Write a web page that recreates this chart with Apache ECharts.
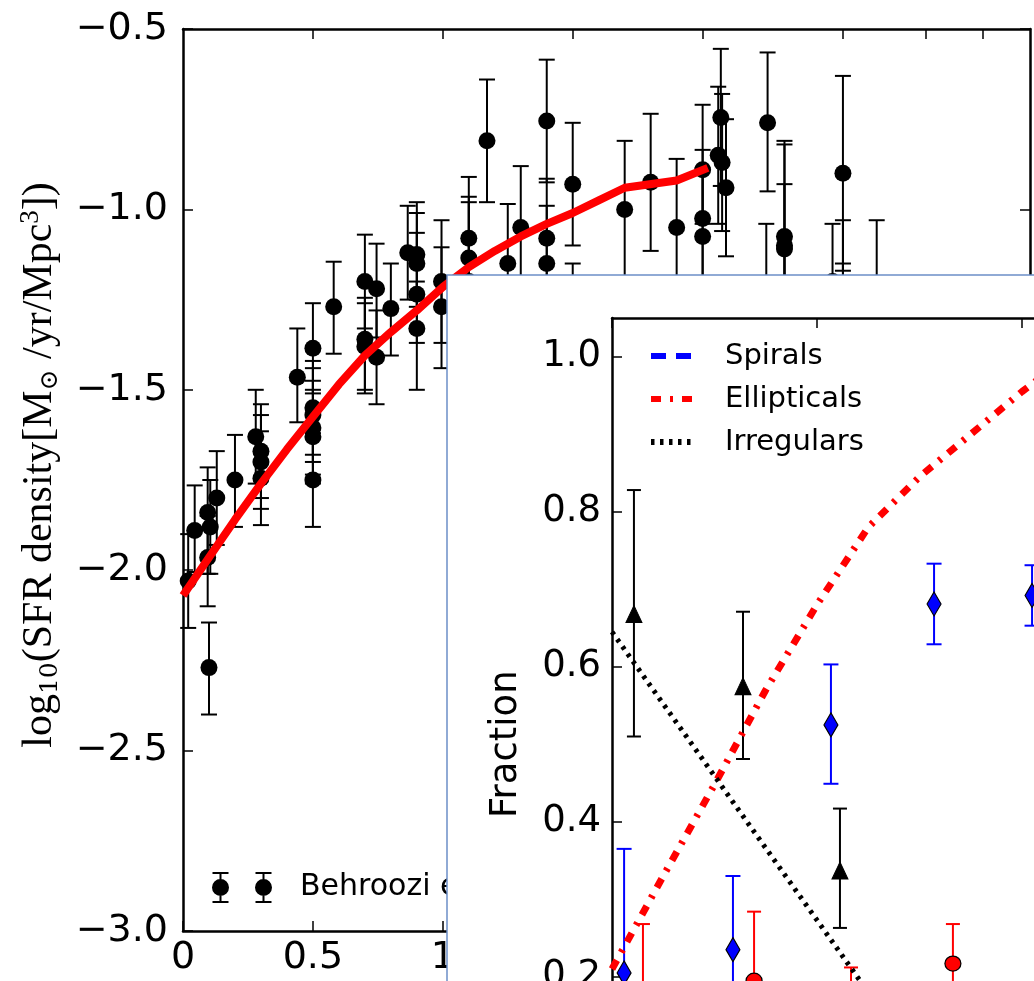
<!DOCTYPE html>
<html><head><meta charset="utf-8">
<script src="https://cdn.jsdelivr.net/npm/echarts@6/dist/echarts.min.js"></script>
<style>html,body{margin:0;padding:0;background:#fff;overflow:hidden;width:1034px;height:981px}#c{width:1400px;height:1400px}</style>
</head><body><div id="c"></div>
<script>
// ---------- main panel: Behroozi SFR density data ----------
const behName = 'Behroozi et al. (2013)';
const behX  = [0.02,0.045,0.13,0.095,0.105,0.095,0.10,0.20,0.28,0.30,0.30,0.30,0.44,0.50,0.50,0.50,0.50,0.50,0.50,0.58,0.70,0.70,0.70,0.745,0.745,0.80,0.865,0.90,0.90,0.90,0.90,0.995,0.995,1.10,1.10,1.10,1.17,1.25,1.30,1.40,1.40,1.40,1.50,1.50,1.70,1.80,1.90,2.00,2.00,2.00,2.06,2.07,2.075,2.09,2.25,2.245,2.315,2.315,2.315,2.50,2.54,2.54,2.54,2.67];
const behY  = [-2.03,-1.89,-1.80,-1.84,-1.88,-1.965,-2.27,-1.75,-1.63,-1.67,-1.70,-1.745,-1.465,-1.385,-1.55,-1.57,-1.605,-1.63,-1.75,-1.27,-1.20,-1.36,-1.38,-1.22,-1.41,-1.275,-1.12,-1.125,-1.15,-1.235,-1.33,-1.20,-1.27,-1.08,-1.135,-1.20,-0.81,-1.15,-1.05,-0.755,-1.08,-1.15,-0.93,-1.32,-1.00,-0.925,-1.05,-0.89,-1.025,-1.075,-0.85,-0.745,-0.87,-0.94,-0.76,-1.23,-1.075,-1.10,-1.11,-1.20,-0.90,-1.30,-1.42,-1.30];
const behHi = [-1.90,-1.765,-1.67,-1.715,-1.75,-1.85,-2.145,-1.625,-1.50,-1.54,-1.57,-1.615,-1.33,-1.26,-1.42,-1.44,-1.475,-1.50,-1.62,-1.145,-1.07,-1.245,-1.26,-1.095,-1.28,-1.15,-0.99,-0.98,-1.01,-1.065,-1.20,-1.03,-1.105,-0.91,-0.965,-0.98,-0.64,-0.985,-0.88,-0.585,-0.915,-0.99,-0.76,-1.15,-0.81,-0.735,-0.86,-0.71,-0.835,-0.885,-0.66,-0.555,-0.68,-0.75,-0.565,-1.04,-0.81,-0.82,-0.93,-1.04,-0.63,-1.03,-1.15,-1.03];
const behLo = [-2.16,-2.005,-1.93,-2.01,-2.01,-2.10,-2.40,-1.88,-1.76,-1.80,-1.83,-1.875,-1.59,-1.51,-1.68,-1.70,-1.735,-1.76,-1.88,-1.40,-1.33,-1.50,-1.51,-1.355,-1.54,-1.405,-1.25,-1.25,-1.27,-1.37,-1.50,-1.37,-1.44,-1.25,-1.30,-1.42,-0.98,-1.32,-1.22,-0.925,-1.245,-1.315,-1.10,-1.49,-1.19,-1.115,-1.24,-1.04,-1.21,-1.26,-1.04,-0.935,-1.06,-1.13,-0.95,-1.42,-1.34,-1.38,-1.29,-1.36,-1.17,-1.57,-1.69,-1.57];

// model curve (red)
const modelX = [0,0.1,0.2,0.3,0.4,0.5,0.6,0.7,0.8,0.9,1.0,1.1,1.2,1.3,1.4,1.5,1.6,1.7,1.9,2.02];
const modelY = [-2.07,-1.965,-1.86,-1.76,-1.665,-1.575,-1.485,-1.405,-1.34,-1.28,-1.215,-1.16,-1.115,-1.075,-1.04,-1.01,-0.975,-0.94,-0.92,-0.885];

const mainTopTicks = [0.5,1.0,1.5,2.0,2.54,2.86,3.08];

// ---------- inset: morphological fractions ----------
const lineNames = ['Spirals','Ellipticals','Irregulars'];
const fracLineX = [0,0.25,0.5,0.75,1.0,1.25,1.5,1.75,2.0,2.1];
const ellLineY  = [0.21,0.33,0.448,0.57,0.68,0.78,0.845,0.90,0.955,0.975];
const irrLineX  = [0,0.5,1.0,1.5];
const irrLineY  = [0.645,0.459,0.273,0.087];
const spiLineX  = [0,0.5,1.0];
const spiLineY  = [0.145,0.093,0.052];

const spiX  = [0.059,0.59,1.068,1.571,2.049];
const spiY  = [0.205,0.235,0.525,0.681,0.692];
const spiHi = [0.365,0.33,0.603,0.733,0.731];
const spiLo = [0.045,0.14,0.449,0.629,0.653];

const irrX  = [0.107,0.639,1.112];
const irrY  = [0.668,0.575,0.337];
const irrHi = [0.828,0.671,0.417];
const irrLo = [0.51,0.481,0.263];

const ellX  = [0.151,0.693,1.166,1.663];
const ellY  = [0.15,0.195,0.13,0.217];
const ellHi = [0.268,0.284,0.212,0.268];
const ellLo = [0.03,0.105,0.05,0.166];

const fracTicks = [0,0.2,0.4,0.6,0.8,1.0];

// ---------- helpers ----------
const FONT = 'DejaVu Sans';
function zip2(a,b){return a.map((v,i)=>[v,b[i]]);}
function zip3(a,b,c){return a.map((v,i)=>[v,b[i],c[i]]);}
function errRender(capW,color,lw){
  return function(params,api){
    const x=api.value(0), lo=api.value(1), hi=api.value(2);
    const p1=api.coord([x,hi]), p2=api.coord([x,lo]);
    const h=capW/2, st={stroke:color,lineWidth:lw};
    return {type:'group',children:[
      {type:'line',shape:{x1:p1[0],y1:p1[1],x2:p2[0],y2:p2[1]},style:st},
      {type:'line',shape:{x1:p1[0]-h,y1:p1[1],x2:p1[0]+h,y2:p1[1]},style:st},
      {type:'line',shape:{x1:p2[0]-h,y1:p2[1],x2:p2[0]+h,y2:p2[1]},style:st}
    ]};
  };
}
const minus1 = v => v.toFixed(1).replace('-', '\u2212');
const axLine = {show:true,onZero:false,lineStyle:{color:'#000',width:2.5}};
const tickIn = {show:true,inside:true,length:10,lineStyle:{color:'#000',width:1.5}};

const legendIcon = 'path://M0,15.5 a8.5,8.5 0 1,1 17,0 a8.5,8.5 0 1,1 -17,0 Z M7.5,0 h2 v31 h-2 Z M0.5,0 h16 v2 h-16 Z M0.5,29 h16 v2 h-16 Z M43,15.5 a8.5,8.5 0 1,1 17,0 a8.5,8.5 0 1,1 -17,0 Z M50.5,0 h2 v31 h-2 Z M43.5,0 h16 v2 h-16 Z M43.5,29 h16 v2 h-16 Z';

const chart = echarts.init(document.getElementById('c'), null, {renderer:'canvas'});
const option = {
  animation:false,
  backgroundColor:'#fff',
  textStyle:{fontFamily:FONT,color:'#000'},
  grid:[
    {left:183,top:29,width:847,height:902},
    {left:612,top:318,width:615,height:852.5,z:60}
  ],
  xAxis:[
    {gridIndex:0,type:'value',min:0,max:3.26,interval:0.5,position:'bottom',
     axisLine:axLine,axisTick:tickIn,splitLine:{show:false},
     axisLabel:{fontSize:38,fontFamily:FONT,color:'#000',margin:8,showMaxLabel:false,formatter:v=>String(v)}},
    {gridIndex:0,type:'value',min:0,max:3.26,position:'top',
     axisLine:axLine,axisTick:Object.assign({},tickIn,{customValues:mainTopTicks}),
     axisLabel:{show:false},splitLine:{show:false}},
    {gridIndex:1,type:'value',min:0,max:3,interval:1,position:'bottom',z:60,
     axisLine:axLine,axisTick:tickIn,axisLabel:{show:false},splitLine:{show:false}},
    {gridIndex:1,type:'value',min:0,max:3,interval:1,position:'top',z:60,
     axisLine:axLine,axisTick:tickIn,axisLabel:{show:false},splitLine:{show:false}}
  ],
  yAxis:[
    {gridIndex:0,type:'value',min:-3,max:-0.5,interval:0.5,position:'left',
     axisLine:axLine,axisTick:tickIn,splitLine:{show:false},
     axisLabel:{fontSize:38,fontFamily:FONT,color:'#000',margin:15,formatter:minus1},
     name:'{n|log}{s|10}{n|(SFR density[M}{s|\u2299}{n| /yr/Mpc}{p|3}{n|])}',
     nameLocation:'middle',nameGap:120,nameRotate:90,
     nameTextStyle:{padding:[0,0,0,30],rich:{
       n:{fontFamily:'Liberation Serif',fontSize:42,lineHeight:46,color:'#000'},
       s:{fontFamily:'DejaVu Serif',fontSize:25,lineHeight:16,verticalAlign:'bottom',color:'#000'},
       p:{fontFamily:'Liberation Serif',fontSize:27,lineHeight:16,verticalAlign:'top',color:'#000'}
     }}},
    {gridIndex:0,type:'value',min:-3,max:-0.5,interval:0.5,position:'right',
     axisLine:axLine,axisTick:tickIn,axisLabel:{show:false},splitLine:{show:false}},
    {gridIndex:1,type:'value',min:-0.05,max:1.05,splitNumber:5,position:'left',z:60,
     axisLine:axLine,axisTick:Object.assign({},tickIn,{customValues:fracTicks}),splitLine:{show:false},
     axisLabel:{fontSize:37,fontFamily:FONT,color:'#000',margin:11,customValues:fracTicks,
       formatter:v=>v.toFixed(1)},
     name:'Fraction',nameLocation:'middle',nameGap:87,nameRotate:90,
     nameTextStyle:{fontSize:37,fontFamily:FONT,color:'#000'}},
    {gridIndex:1,type:'value',min:-0.05,max:1.05,splitNumber:5,position:'right',z:60,
     axisLine:axLine,axisTick:Object.assign({},tickIn,{customValues:fracTicks}),axisLabel:{show:false},splitLine:{show:false}}
  ],
  legend:[
    {data:[{name:behName,icon:legendIcon}],left:212,top:872,padding:0,orient:'vertical',
     itemWidth:60,itemHeight:31,selectedMode:false,z:4,
     textStyle:{fontSize:30,fontFamily:FONT,color:'#000',padding:[0,0,0,23]}},
    {data:lineNames,left:648,top:341,padding:0,orient:'vertical',itemWidth:41,itemHeight:14,
     itemGap:13,selectedMode:false,z:60,itemStyle:{opacity:0},lineStyle:{width:6},
     textStyle:{fontSize:29,fontFamily:FONT,color:'#000',lineHeight:30,padding:[0,0,0,28]}}
  ],
  graphic:[
    {type:'rect',z:50,shape:{x:447,y:275,width:1000,height:1000},
     style:{fill:'#ffffff',stroke:'#6c8fc8',lineWidth:1.5}}
  ],
  series:[
    {type:'custom',name:behName+' err',xAxisIndex:0,yAxisIndex:0,z:2,
     renderItem:errRender(16,'#000',2),encode:{x:0,y:[1,2]},data:zip3(behX,behLo,behHi)},
    {type:'scatter',name:behName,xAxisIndex:0,yAxisIndex:0,z:3,symbol:'circle',symbolSize:17,
     itemStyle:{color:'#000',opacity:1},data:zip2(behX,behY)},
    {type:'line',name:'model',xAxisIndex:0,yAxisIndex:0,z:5,symbol:'none',
     lineStyle:{color:'#ff0000',width:8},data:zip2(modelX,modelY)},

    {type:'custom',name:'Spirals err',xAxisIndex:2,yAxisIndex:2,z:61,
     renderItem:errRender(15,'#0000ff',2),encode:{x:0,y:[1,2]},data:zip3(spiX,spiLo,spiHi)},
    {type:'custom',name:'Irregulars err',xAxisIndex:2,yAxisIndex:2,z:61,
     renderItem:errRender(14,'#000',2),encode:{x:0,y:[1,2]},data:zip3(irrX,irrLo,irrHi)},
    {type:'custom',name:'Ellipticals err',xAxisIndex:2,yAxisIndex:2,z:61,
     renderItem:errRender(14,'#ff0000',2),encode:{x:0,y:[1,2]},data:zip3(ellX,ellLo,ellHi)},
    {type:'scatter',name:'Spirals pts',xAxisIndex:2,yAxisIndex:2,z:62,symbol:'diamond',symbolSize:[14,24],
     itemStyle:{color:'#0000ff',borderColor:'#000',borderWidth:1.2,opacity:1},data:zip2(spiX,spiY)},
    {type:'scatter',name:'Irregulars pts',xAxisIndex:2,yAxisIndex:2,z:62,symbol:'triangle',symbolSize:[16,17],
     itemStyle:{color:'#000',borderColor:'#000',borderWidth:1,opacity:1},data:zip2(irrX,irrY)},
    {type:'scatter',name:'Ellipticals pts',xAxisIndex:2,yAxisIndex:2,z:62,symbol:'circle',symbolSize:[16,15],
     itemStyle:{color:'#ff0000',borderColor:'#000',borderWidth:1.2,opacity:1},data:zip2(ellX,ellY)},
    {type:'line',name:'Spirals',xAxisIndex:2,yAxisIndex:2,z:63,symbol:'none',
     lineStyle:{color:'#0000ff',width:6,type:[15,10],cap:'butt'},itemStyle:{color:'#0000ff'},data:zip2(spiLineX,spiLineY)},
    {type:'line',name:'Ellipticals',xAxisIndex:2,yAxisIndex:2,z:63,symbol:'none',
     lineStyle:{color:'#ff0000',width:7,type:[10,9,3,9],cap:'butt'},itemStyle:{color:'#ff0000'},data:zip2(fracLineX,ellLineY)},
    {type:'line',name:'Irregulars',xAxisIndex:2,yAxisIndex:2,z:63,symbol:'none',
     lineStyle:{color:'#000',width:5,type:[3.5,5.5],cap:'butt'},itemStyle:{color:'#000'},data:zip2(irrLineX,irrLineY)}
  ]
};
chart.setOption(option);
</script></body></html>
